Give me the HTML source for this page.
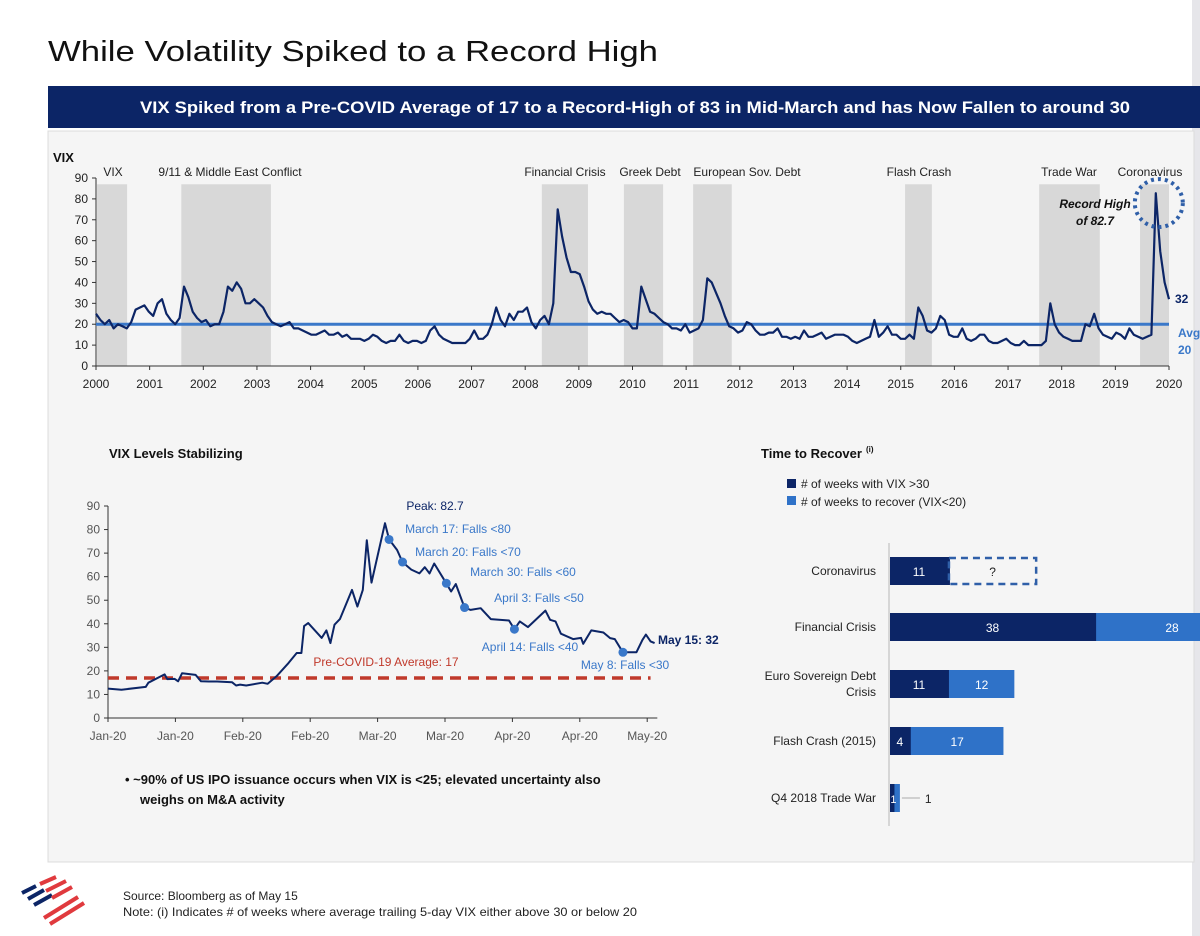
<!DOCTYPE html>
<html><head><meta charset="utf-8"><style>
html,body{margin:0;padding:0;background:#fff;}
svg{display:block;font-family:"Liberation Sans",sans-serif;}
</style></head><body>
<svg id="page" width="1200" height="936" viewBox="0 0 1200 936">
<rect x="1192" y="0" width="8" height="936" fill="#e6e6ea"/>
<text x="48" y="61" font-size="29" fill="#111" textLength="610" lengthAdjust="spacingAndGlyphs">While Volatility Spiked to a Record High</text>
<rect x="48" y="86" width="1152" height="42" fill="#0c2566"/>
<text x="140" y="113" font-size="17" font-weight="bold" fill="#fff" textLength="990" lengthAdjust="spacingAndGlyphs">VIX Spiked from a Pre-COVID Average of 17 to a Record-High of 83 in Mid-March and has Now Fallen to around 30</text>
<rect x="48" y="131" width="1146" height="731" fill="#f5f5f5" stroke="#dcdcdc"/>
<g id="top"></g>
<g id="bl"></g>
<g id="br"></g>
<g>
<path d="M22 893 L36 886 M28 899 L44 890 M34 905 L52 895" stroke="#0c2566" stroke-width="4"/>
<path d="M40 884 L56 877 M46 891 L66 881 M52 898 L72 887 M44 918 L78 897 M50 924 L84 903" stroke="#e03a3e" stroke-width="4"/>
</g>
<text x="123" y="900" font-size="12" fill="#222">Source: Bloomberg as of May 15</text>
<text x="123" y="916" font-size="12" fill="#222" textLength="514" lengthAdjust="spacingAndGlyphs">Note: (i) Indicates # of weeks where average trailing 5-day VIX either above 30 or below 20</text>
</svg>
<script>
// ---------- Top chart data ----------
const vixMonthly = [
25,22,20,22,18,20,19,18,21,27,28,29,
26,24,30,32,25,22,20,23,38,33,26,23,
21,22,19,20,20,26,38,36,40,37,30,30,
32,30,28,24,21,20,19,20,21,18,18,17,
16,15,15,16,17,15,15,16,14,15,13,13,
13,12,13,15,14,12,11,12,12,15,12,11,
12,12,11,12,17,19,15,13,12,11,11,11,
11,13,17,13,13,15,20,28,22,19,25,22,
26,26,28,21,18,22,24,20,30,75,62,52,
45,45,44,38,31,27,25,26,25,25,23,21,
22,21,18,18,38,32,26,25,23,21,20,18,
18,17,20,16,17,18,22,42,40,35,30,24,
19,18,16,17,21,20,17,15,15,16,16,18,
14,14,13,14,13,17,14,14,15,16,13,14,
15,15,15,14,12,11,12,13,14,22,14,16,
19,15,15,13,13,15,13,28,24,17,16,18,
24,22,15,14,14,18,13,12,13,15,15,12,
11,11,12,13,11,10,10,12,10,10,10,10,
12,30,20,16,14,13,12,12,12,20,19,25,
18,15,14,13,16,15,13,18,15,14,13,14,
15,82.7,55,40,32];
const yearTicks = [2000,2001,2002,2003,2004,2005,2006,2007,2008,2009,2010,2011,2012,2013,2014,2015,2016,2017,2018,2019,2020];
const vixTicks = [0,10,20,30,40,50,60,70,80,90];
const bandStart = [2000.02,2001.59,2008.31,2009.84,2011.13,2015.08,2017.58,2019.46];
const bandEnd   = [2000.58,2003.26,2009.17,2010.57,2011.85,2015.58,2018.71,2020.0];
const bandLabels = ["VIX","9/11 & Middle East Conflict","Financial Crisis","Greek Debt","European Sov. Debt","Flash Crash","Trade War","Coronavirus"];
const bandLabelX = [113,230,565,650,747,919,1069,1150];
const avgVix = [20];

// ---------- Bottom-left data ----------
const dayX = [0,2,5.6,6,8.4,8.8,9.9,10.4,11,13,13.8,15,16.2,18.4,19,19.6,20.5,22.9,23.7,25,26.8,28,28.7,29.1,29.7,31.7,32.4,33,33.6,34.4,36.2,37,37.8,38.4,39.1,41.1,41.7,42.9,43.7,45,46.2,47,47.7,48.4,50.2,50.9,51.6,52.9,53.8,55.3,56.8,59.5,60.3,61.1,62.3,64.9,65.6,66.4,67.2,69,70.2,70.5,71.7,73.5,74.5,75.2,76.4,78.4,79.3,79.8,80.5,81.1];
const dayVix = [12.5,12,13.2,15,18.5,16.5,16.6,15.6,19,18.3,15.6,15.5,15.5,15.2,13.8,14.2,13.8,15,14.5,17.7,23.4,27.6,27.6,39,40.3,34,37.2,31.8,39.6,42,54.4,47.3,54.4,75.5,57.5,82.7,75.8,71.3,66.2,63,61.4,64,61.4,65.6,57.2,53.7,56.9,46.9,45.9,46.6,42,41.4,37.7,41,38.6,45.6,41.7,41,35.8,33.5,34,31.5,37.2,36.3,33.9,33.5,27.9,27.9,33.2,35.4,32.5,31.8];
const markerX = [41.7,43.7,50.2,52.9,60.3,76.4];
const markerY = [75.8,66.2,57.2,46.9,37.7,27.9];
const monthTickLabels = ["Jan-20","Jan-20","Feb-20","Feb-20","Mar-20","Mar-20","Apr-20","Apr-20","May-20"];
const preCovidAvg = [17];

// ---------- Bottom-right data ----------
const events = ["Coronavirus","Financial Crisis","Euro Sovereign Debt|Crisis","Flash Crash (2015)","Q4 2018 Trade War"];
const weeksAbove30 = [11,38,11,4,1];
const weeksRecover = [null,28,12,17,1];
const unknownRecover = [16];

const NS="http://www.w3.org/2000/svg";
function mk(parent,tag,attrs,text){const e=document.createElementNS(NS,tag);for(const k in attrs)e.setAttribute(k,attrs[k]);if(text!==undefined)e.textContent=text;parent.appendChild(e);return e;}

// ===== Top chart =====
(function(){
const g=document.getElementById('top');
const X0=96,X1=1169,Y0=366,Y90=178;
const xYear=y=>X0+(y-2000)*(X1-X0)/20;
const yV=v=>Y0-(v)*(Y0-Y90)/90;
const xIdx=i=>X0+i*(X1-X0)/(vixMonthly.length-1);
for(let i=0;i<bandStart.length;i++){
 const r=mk(g,'rect',{x:xYear(bandStart[i]),y:yV(87),width:xYear(bandEnd[i])-xYear(bandStart[i]),height:yV(0)-yV(87),fill:'#d8d8d8'});
 
 
 const t=mk(g,'text',{x:bandLabelX[i],y:176,'font-size':12,'text-anchor':'middle',fill:'#222'},bandLabels[i]);
 
 
}
const ax=mk(g,'path',{d:`M${X0} ${yV(90)} V${Y0} H${X1}`,stroke:'#333',fill:'none','stroke-width':1});


vixTicks.forEach(v=>{
 mk(g,'line',{x1:X0-4,x2:X0,y1:yV(v),y2:yV(v),stroke:'#333'});
 const t=mk(g,'text',{x:X0-8,y:yV(v)+4,'font-size':12,'text-anchor':'end',fill:'#222'},v);
 
 
});
yearTicks.forEach(y=>{
 mk(g,'line',{x1:xYear(y),x2:xYear(y),y1:Y0,y2:Y0+4,stroke:'#333'});
 const t=mk(g,'text',{x:xYear(y),y:388,'font-size':12,'text-anchor':'middle',fill:'#222'},y);
 
 
});
const yt=mk(g,'text',{x:53,y:162,'font-size':13,'font-weight':'bold',fill:'#111'},'VIX');


const avg=mk(g,'line',{x1:X0,x2:X1,y1:yV(avgVix[0]),y2:yV(avgVix[0]),stroke:'#3a78c9','stroke-width':3});


const d=vixMonthly.map((v,i)=>(i?'L':'M')+xIdx(i).toFixed(1)+' '+yV(v).toFixed(1)).join(' ');
const ln=mk(g,'path',{d:d,stroke:'#0c2566','stroke-width':2.2,fill:'none','stroke-linejoin':'round'});


const pk=vixMonthly.indexOf(Math.max(...vixMonthly));
const c=mk(g,'circle',{cx:xIdx(pk)+3,cy:yV(78),r:24,fill:'none',stroke:'#2f5fa8','stroke-width':4,'stroke-dasharray':'3 4'});


const r1=mk(g,'text',{x:1095,y:208,'font-size':12,'font-weight':'bold','font-style':'italic',fill:'#111','text-anchor':'middle'},'Record High');


mk(g,'text',{x:1095,y:225,'font-size':12,'font-weight':'bold','font-style':'italic',fill:'#111','text-anchor':'middle'},'of 82.7');
const l32=mk(g,'text',{x:1175,y:303,'font-size':12,'font-weight':'bold',fill:'#0c2566'},vixMonthly[vixMonthly.length-1]);


const la=mk(g,'text',{x:1178,y:337,'font-size':12,'font-weight':'bold',fill:'#3a78c9'},'Avg');


mk(g,'text',{x:1178,y:354,'font-size':12,'font-weight':'bold',fill:'#3a78c9'},avgVix[0]);
})();

// ===== Bottom-left chart =====
(function(){
const g=document.getElementById('bl');
const X0=108,UX=6.74,Y0=718,Y90=506;
const x=u=>X0+u*UX;
const y=v=>Y0-v*(Y0-Y90)/90;
const t0=mk(g,'text',{x:109,y:458,'font-size':13,'font-weight':'bold',fill:'#111'},'VIX Levels Stabilizing');


const ax=mk(g,'path',{d:`M${X0} ${y(90)} V${Y0} H${x(81.5)}`,stroke:'#333',fill:'none'});


vixTicks.forEach(v=>{
 mk(g,'line',{x1:X0-4,x2:X0,y1:y(v),y2:y(v),stroke:'#333'});
 const t=mk(g,'text',{x:X0-8,y:y(v)+4,'font-size':12,'text-anchor':'end',fill:'#555'},v);
 
 
});
monthTickLabels.forEach((s,i)=>{
 mk(g,'line',{x1:x(i*10),x2:x(i*10),y1:Y0,y2:Y0+4,stroke:'#333'});
 const t=mk(g,'text',{x:x(i*10),y:740,'font-size':12,'text-anchor':'middle',fill:'#555'},s);
 
 
});
const av=mk(g,'line',{x1:X0,x2:x(80.5),y1:y(preCovidAvg[0]),y2:y(preCovidAvg[0]),stroke:'#c0392b','stroke-width':3.5,'stroke-dasharray':'11 7'});


const al=mk(g,'text',{x:386,y:666,'font-size':12,'text-anchor':'middle',fill:'#c0392b'},'Pre-COVID-19 Average: '+preCovidAvg[0]);


const d=dayX.map((u,i)=>(i?'L':'M')+x(u).toFixed(1)+' '+y(dayVix[i]).toFixed(1)).join(' ');
const ln=mk(g,'path',{d:d,stroke:'#0c2566','stroke-width':2,fill:'none','stroke-linejoin':'round'});


markerX.forEach((u,i)=>{
 const c=mk(g,'circle',{cx:x(u),cy:y(markerY[i]),r:4.5,fill:'#3a78c9'});
 
 
});
const labs=[["Peak: 82.7",435,510,'#0c2566'],["March 17: Falls <80",458,533,'#3a78c9'],["March 20: Falls <70",468,556,'#3a78c9'],["March 30: Falls <60",523,576,'#3a78c9'],["April 3: Falls <50",539,602,'#3a78c9'],["April 14: Falls <40",530,651,'#3a78c9'],["May 8: Falls <30",625,669,'#3a78c9']];
labs.forEach(a=>{
 const t=mk(g,'text',{x:a[1],y:a[2],'font-size':12,'text-anchor':'middle',fill:a[3]},a[0]);
 
 
});
const m=mk(g,'text',{x:658,y:644,'font-size':12,'font-weight':'bold',fill:'#0c2566'},'May 15: '+Math.round(dayVix[dayVix.length-1]));


const b=mk(g,'text',{x:125,y:784,'font-size':13,'font-weight':'bold',fill:'#111'},'•    ~90% of US IPO issuance occurs when VIX is <25; elevated uncertainty also');


mk(g,'text',{x:140,y:804,'font-size':13,'font-weight':'bold',fill:'#111'},'weighs on M&A activity');
})();

// ===== Bottom-right chart =====
(function(){
const g=document.getElementById('br');
const X0=889,U=5.45,Yc=[571,627,684,741,798],H=28;
const x=v=>X0+v*U;
const t=mk(g,'text',{x:761,y:458,'font-size':13,'font-weight':'bold',fill:'#111'},'Time to Recover');


mk(g,'text',{x:866,y:452,'font-size':8,'font-weight':'bold',fill:'#111'},'(i)');
const l1=mk(g,'rect',{x:787,y:479,width:9,height:9,fill:'#0c2566'});


const l2=mk(g,'rect',{x:787,y:496,width:9,height:9,fill:'#2f72c8'});


const lt1=mk(g,'text',{x:801,y:488,'font-size':12,fill:'#222'},'# of weeks with VIX >30');


const lt2=mk(g,'text',{x:801,y:506,'font-size':12,fill:'#222'},'# of weeks to recover (VIX<20)');


const ax=mk(g,'line',{x1:X0,x2:X0,y1:543,y2:826,stroke:'#ccc','stroke-width':1.5});


events.forEach((ev,i)=>{
 const parts=ev.split('|');
 parts.forEach((p,j)=>{
  const tt=mk(g,'text',{x:876,y:Yc[i]+4-(parts.length-1)*8+j*16,'font-size':12,'text-anchor':'end',fill:'#222'},p);
  
  
 });
 const a=weeksAbove30[i];
 const r=mk(g,'rect',{x:X0+1,y:Yc[i]-H/2,width:x(a)-X0,height:H,fill:'#0c2566'});
 
 
 if(a>1){const v=mk(g,'text',{x:(X0+x(a))/2,y:Yc[i]+5,'font-size':12,'text-anchor':'middle',fill:'#fff'},a);
 
 }
 const rv=weeksRecover[i];
 if(rv!==null){
  const r2=mk(g,'rect',{x:x(a),y:Yc[i]-H/2,width:x(a+rv)-x(a),height:H,fill:'#2f72c8'});
  
  
  if(rv>1){const v=mk(g,'text',{x:Math.min((x(a)+x(a+rv))/2,1172),y:Yc[i]+5,'font-size':12,'text-anchor':'middle',fill:'#fff'},rv);
  
  }
  else{
   mk(g,'text',{x:x(a)-1,y:Yc[i]+5,'font-size':11,'text-anchor':'middle',fill:'#fff'},a);
   mk(g,'line',{x1:x(a+rv)+2,x2:x(a+rv)+20,y1:Yc[i],y2:Yc[i],stroke:'#aaa'});
   const v=mk(g,'text',{x:x(a+rv)+25,y:Yc[i]+5,'font-size':12,fill:'#222'},rv);
   
   
  }
 } else {
  const u=mk(g,'rect',{x:x(a),y:Yc[i]-H/2+1,width:x(a+unknownRecover[0])-x(a),height:H-2,fill:'none',stroke:'#2f5fa8','stroke-width':2.5,'stroke-dasharray':'7 5'});
  
  
  const q=mk(g,'text',{x:(x(a)+x(a+unknownRecover[0]))/2,y:Yc[i]+5,'font-size':12,'text-anchor':'middle',fill:'#222'},'?');
  
  
 }
});
})();
</script>
</body></html>
